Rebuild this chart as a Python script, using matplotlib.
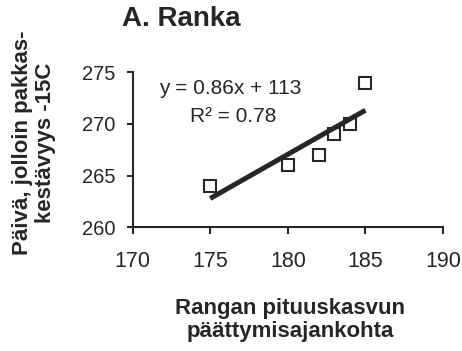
import numpy as np
import matplotlib
matplotlib.use("Agg")
import matplotlib.pyplot as plt

plt.rcParams['font.family'] = ['Liberation Sans', 'DejaVu Sans']

# end of height growth (day) vs. day when frost hardiness reaches -15C
kasvu = [175, 180, 182, 183, 184, 185]
pakkas = [264, 266, 267, 269, 270, 274]

xticks = [170, 175, 180, 185, 190]
yticks = [260, 265, 270, 275]

# trend line as printed on the chart
eq_text = "y = 0.86x + 113"
r2_text = "R² = 0.78"

slope, icpt = np.polyfit(kasvu, pakkas, 1)

ink = "#262626"

fig = plt.figure(figsize=(4.62, 3.51), dpi=100)
ax = fig.add_axes([0.287, 0.353, 0.672, 0.441])

xs = np.array([min(kasvu), max(kasvu)])
ax.plot(kasvu, pakkas, ls="none", marker="s", ms=8.5, mfc="white",
        mec=ink, mew=1.5, zorder=2)
ax.plot(xs, slope * xs + icpt, color=ink, lw=3.6, solid_capstyle="butt", zorder=3)

ax.set_xlim(170, 190)
ax.set_ylim(260, 275)
ax.set_xticks(xticks)
ax.set_yticks(yticks)
ax.tick_params(direction="out", width=1.5, color=ink, labelcolor=ink)
ax.tick_params(axis="x", length=5, labelsize=15.5, pad=12)
ax.tick_params(axis="y", length=4.5, labelsize=14.5, pad=8)
for s in ["top", "right"]:
    ax.spines[s].set_visible(False)
for s in ["left", "bottom"]:
    ax.spines[s].set_linewidth(1.5)
    ax.spines[s].set_color(ink)

ax.text(176.3, 273.4, eq_text, fontsize=15, color=ink, ha="center", va="center")
ax.text(176.5, 270.7, r2_text, fontsize=15, color=ink, ha="center", va="center")

fig.text(0.393, 0.947, "A. Ranka", fontsize=20, fontweight="bold",
         color=ink, ha="center", va="center")
fig.text(0.073, 0.593, "Päivä, jolloin pakkas-\nkestävyys -15C", rotation=90,
         fontsize=16, fontweight="bold", color=ink, ha="center", va="center",
         linespacing=1.15)
fig.text(0.628, 0.088, "Rangan pituuskasvun\npäättymisajankohta",
         fontsize=16, fontweight="bold", color=ink, ha="center", va="center",
         linespacing=1.12)

fig.savefig("out.png", dpi=100)
